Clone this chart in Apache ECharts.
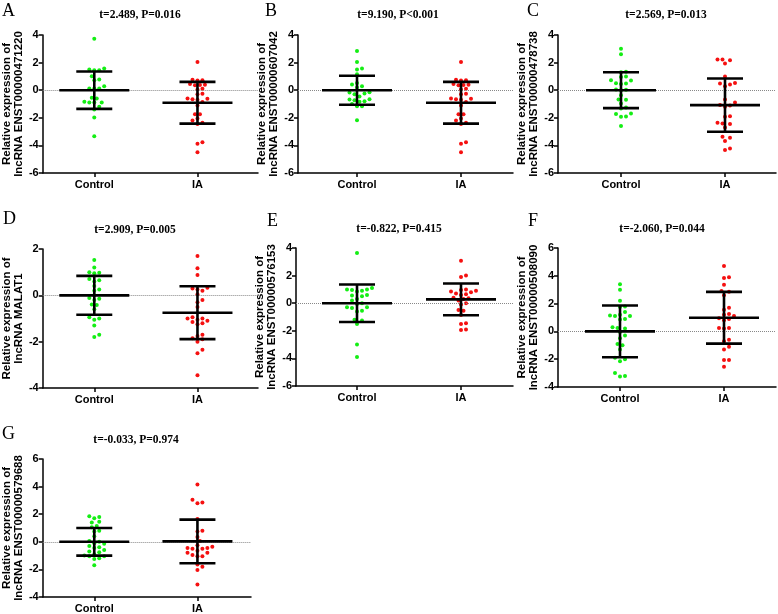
<!DOCTYPE html>
<html>
<head>
<meta charset="utf-8">
<script src="https://cdn.jsdelivr.net/npm/echarts@6/dist/echarts.min.js"></script>
<style>
  html, body { margin: 0; padding: 0; background: #fff; }
  #main { width: 778px; height: 614px; }
</style>
</head>
<body>
<div id="main"></div>
<script>
// groups and per panel labels
var groups = ['Control', 'IA']
var panelLetters = ['A', 'B', 'C', 'D', 'E', 'F', 'G']
var genes = ['ENST00000471220', 'ENST00000607042', 'ENST00000478738', 'MALAT1', 'ENST00000576153', 'ENST00000508090', 'ENST00000579688']
var statTexts = ['t=2.489, P=0.016', 't=9.190, P<0.001', 't=2.569, P=0.013', 't=2.909, P=0.005', 't=-0.822, P=0.415', 't=-2.060, P=0.044', 't=-0.033, P=0.974']
var yMins = [-6, -6, -6, -4, -6, -4, -4]
var yMaxs = [4, 4, 4, 2, 4, 6, 6]

// relative expression values
var controlA = [3.73, 1.57, 1.5, 1.45, 1.45, 1.01, 0.72, 0.77, 0.29, 0.12, 0.12, 0.12, -0.6, -0.55, -0.89, -0.89, -0.89, -0.84, -1.2, -1.4, -1.98, -3.33]
var iaA = [2.05, 0.75, 0.72, 0.7, 0.45, 0.4, 0.38, 0.35, 0.1, 0.05, -0.25, -0.3, -0.6, -0.62, -0.65, -0.7, -0.85, -1.1, -1.75, -1.75, -2.05, -2.2, -2.35, -2.45, -3.78, -3.88, -4.5]
var controlB = [2.84, 2.05, 1.57, 1.5, 1.16, 0.53, 0.41, 0.29, 0.2, -0.14, -0.17, -0.24, -0.29, -0.45, -0.65, -0.67, -0.72, -0.8, -0.84, -1.0, -1.16, -1.16, -2.17]
var iaB = [2.05, 0.75, 0.72, 0.7, 0.45, 0.4, 0.38, 0.35, 0.1, 0.05, -0.25, -0.3, -0.6, -0.62, -0.65, -0.7, -0.85, -1.1, -1.75, -1.75, -2.05, -2.2, -2.35, -2.45, -3.78, -3.88, -4.5]
var controlC = [3.01, 2.6, 1.33, 1.3, 1.0, 0.96, 0.72, 0.7, 0.5, 0.48, 0.45, 0.05, 0.03, 0.0, -0.36, -0.67, -0.7, -0.96, -1.25, -1.33, -1.69, -1.73, -1.9, -1.93, -2.6]
var iaC = [2.22, 2.22, 2.17, 1.93, 1.0, 0.53, 0.48, 0.41, 0.29, -0.67, -0.89, -1.08, -1.1, -1.2, -1.88, -1.93, -2.36, -2.41, -2.45, -2.7, -3.37, -3.45, -3.69, -4.22, -4.34]
var controlD = [1.52, 1.2, 1.0, 0.97, 0.95, 0.7, 0.65, 0.6, 0.4, 0.25, 0.2, 0.0, -0.12, -0.15, -0.2, -0.4, -0.42, -0.6, -0.95, -1.0, -1.05, -1.3, -1.7, -1.8]
var iaD = [1.7, 1.17, 0.88, 0.33, 0.3, 0.25, 0.2, 0.05, -0.2, -0.3, -0.5, -0.95, -1.0, -1.0, -1.05, -1.1, -1.15, -1.2, -1.25, -1.7, -1.75, -1.85, -1.9, -2.0, -2.35, -2.5, -3.45]
var controlE = [3.64, 1.1, 1.0, 1.0, 0.95, 0.9, 0.85, 0.6, 0.55, 0.5, 0.3, 0.2, 0.0, -0.05, -0.3, -0.3, -0.35, -0.55, -0.6, -1.2, -1.25, -1.5, -3.0, -3.9]
var iaE = [3.08, 2.0, 1.9, 1.0, 0.95, 0.9, 0.85, 0.8, 0.7, 0.65, 0.6, 0.4, 0.35, 0.3, 0.2, 0.0, -0.1, -0.5, -0.55, -0.85, -1.45, -1.5, -1.9, -1.95]
var controlF = [3.4, 3.0, 2.2, 1.8, 1.75, 1.4, 1.2, 1.15, 1.1, 1.1, 0.9, 0.85, 0.3, 0.25, 0.2, -0.05, -0.3, -0.5, -0.9, -1.0, -1.3, -1.9, -2.0, -2.15, -3.0, -3.2, -3.25]
var iaF = [4.7, 3.9, 3.85, 3.35, 2.9, 2.85, 2.6, 1.7, 1.55, 1.25, 1.2, 1.1, 0.95, 0.9, 0.8, 0.25, 0.25, 0.2, -0.6, -0.7, -1.1, -1.3, -2.05, -2.05, -2.55]
var controlG = [1.85, 1.8, 1.7, 1.45, 1.4, 1.15, 1.05, 0.8, 0.75, 0.4, 0.05, 0.0, -0.1, -0.15, -0.3, -0.4, -0.45, -0.6, -0.7, -0.75, -0.9, -1.0, -1.05, -1.05, -1.2, -1.25, -1.7]
var iaG = [4.15, 3.05, 2.85, 2.8, 1.65, 0.8, 0.75, 0.35, 0.05, -0.25, -0.35, -0.45, -0.45, -0.5, -0.5, -0.65, -0.8, -0.8, -0.95, -1.05, -1.05, -1.65, -1.8, -2.05, -3.1]

// mean and SD bars (as drawn)
var controlMeans = [0, 0, 0, 0, 0, 0, 0]
var controlSds = [1.35, 1.05, 1.3, 0.84, 1.36, 1.86, 1.0]
var iaMeans = [-0.91, -0.91, -1.08, -0.75, 0.28, 0.98, 0.03]
var iaSds = [1.51, 1.51, 1.93, 1.14, 1.15, 1.86, 1.58]

var controlSets = [controlA, controlB, controlC, controlD, controlE, controlF, controlG]
var iaSets = [iaA, iaB, iaC, iaD, iaE, iaF, iaG]

// layout of each panel (px)
var panels = [
  {left: 41, top: 35, width: 217, height: 138, off: 52, title: [140, 15], letter: [2, 11]},
  {left: 298, top: 35, width: 215, height: 138, off: 59, title: [398, 15], letter: [265, 11]},
  {left: 558, top: 35, width: 218, height: 138, off: 63, title: [666, 15], letter: [527, 11]},
  {left: 41, top: 249, width: 217, height: 139, off: 52, title: [135, 230], letter: [3, 219]},
  {left: 296, top: 248, width: 217, height: 138, off: 61, title: [399, 229], letter: [267, 221]},
  {left: 558, top: 248, width: 218, height: 139, off: 62, title: [662, 229], letter: [528, 221]},
  {left: 41, top: 459, width: 210, height: 139, off: 52, title: [136, 440], letter: [2, 434]}
]
var GROUP_PX = 104

// simple beeswarm so dots don't overlap
function swarm (values, center, pxX, pxY) {
  var order = values.map(function (v, i) { return i }).sort(function (a, b) { return values[a] - values[b] })
  var placed = []
  var out = []
  var step = 2.5, dia = 4.5
  order.forEach(function (i) {
    var yp = values[i] * pxY
    var off = 0
    for (var k = 0; k < 40; k++) {
      var cand = k === 0 ? 0 : (k % 2 ? 1 : -1) * Math.ceil(k / 2) * step
      var ok = placed.every(function (p) {
        var dx = cand - p[0], dy = yp - p[1]
        return dx * dx + dy * dy >= dia * dia
      })
      if (ok) { off = cand; break }
    }
    placed.push([off, yp])
    out.push([center + off / pxX, values[i]])
  })
  return out
}

function errorBar (params, api) {
  var x = api.value(0), m = api.value(1), s = api.value(2)
  var c = api.coord([x, m]), t = api.coord([x, m + s]), b = api.coord([x, m - s])
  var st = {stroke: '#000', lineWidth: 2.6}
  return {
    type: 'group',
    children: [
      {type: 'line', shape: {x1: c[0] - 35, y1: c[1], x2: c[0] + 35, y2: c[1]}, style: st},
      {type: 'line', shape: {x1: t[0], y1: t[1], x2: b[0], y2: b[1]}, style: st},
      {type: 'line', shape: {x1: t[0] - 18, y1: t[1], x2: t[0] + 18, y2: t[1]}, style: st},
      {type: 'line', shape: {x1: b[0] - 18, y1: b[1], x2: b[0] + 18, y2: b[1]}, style: st}
    ]
  }
}

var grids = [], xAxes = [], yAxes = [], series = [], graphics = []
panels.forEach(function (p, i) {
  var xMin = 1 - p.off / GROUP_PX
  var xMax = xMin + p.width / GROUP_PX
  var pxY = p.height / (yMaxs[i] - yMins[i])
  grids.push({left: p.left, top: p.top, width: p.width, height: p.height})
  xAxes.push({
    type: 'value', gridIndex: i, min: xMin, max: xMax,
    splitLine: {show: false},
    axisLine: {onZero: false, lineStyle: {color: '#000', width: 1.5}},
    axisTick: {customValues: [1, 2], length: 4, lineStyle: {color: '#000', width: 1.5}},
    axisLabel: {
      customValues: [1, 2], margin: 6, color: '#000', fontWeight: 'bold', fontSize: 11,
      fontFamily: 'Liberation Sans',
      formatter: function (v) { return groups[Math.round(v) - 1] || '' }
    }
  })
  yAxes.push({
    type: 'value', gridIndex: i, min: yMins[i], max: yMaxs[i], interval: 2,
    splitLine: {show: false},
    axisLine: {show: true, onZero: false, lineStyle: {color: '#000', width: 1.5}},
    axisTick: {show: true, length: 4, lineStyle: {color: '#000', width: 1.5}},
    axisLabel: {margin: 4, color: '#000', fontWeight: 'bold', fontSize: 11, fontFamily: 'Liberation Sans'},
    name: 'Relative expression of\nlncRNA ' + genes[i],
    nameLocation: 'middle', nameGap: 14,
    nameTextStyle: {color: '#000', fontWeight: 'bold', fontSize: 11.5, lineHeight: 12, fontFamily: 'Liberation Sans'}
  })
  series.push({
    type: 'scatter', xAxisIndex: i, yAxisIndex: i, symbolSize: 4,
    itemStyle: {color: '#14ee14', opacity: 1},
    data: swarm(controlSets[i], 1, GROUP_PX, pxY),
    markLine: {
      silent: true, symbol: 'none', label: {show: false},
      lineStyle: {type: 'dotted', color: '#888', width: 1},
      data: [{yAxis: 0}]
    }
  })
  series.push({
    type: 'scatter', xAxisIndex: i, yAxisIndex: i, symbolSize: 4,
    itemStyle: {color: '#f51010', opacity: 1},
    data: swarm(iaSets[i], 2, GROUP_PX, pxY)
  })
  series.push({
    type: 'custom', xAxisIndex: i, yAxisIndex: i, z: 5,
    renderItem: errorBar,
    data: [[1, controlMeans[i], controlSds[i]], [2, iaMeans[i], iaSds[i]]]
  })
  graphics.push({
    type: 'text', x: p.title[0], y: p.title[1],
    style: {text: statTexts[i], align: 'center', verticalAlign: 'middle', fill: '#000',
      fontSize: 11.5, fontWeight: 'bold', fontFamily: 'Liberation Serif'}
  })
  graphics.push({
    type: 'text', x: p.letter[0], y: p.letter[1],
    style: {text: panelLetters[i], align: 'left', verticalAlign: 'middle', fill: '#000',
      fontSize: 18, fontFamily: 'Liberation Serif'}
  })
})

var myChart = echarts.init(document.getElementById('main'))
myChart.setOption({
  animation: false,
  backgroundColor: '#fff',
  grid: grids,
  xAxis: xAxes,
  yAxis: yAxes,
  series: series,
  graphic: graphics
})
</script>
</body>
</html>
